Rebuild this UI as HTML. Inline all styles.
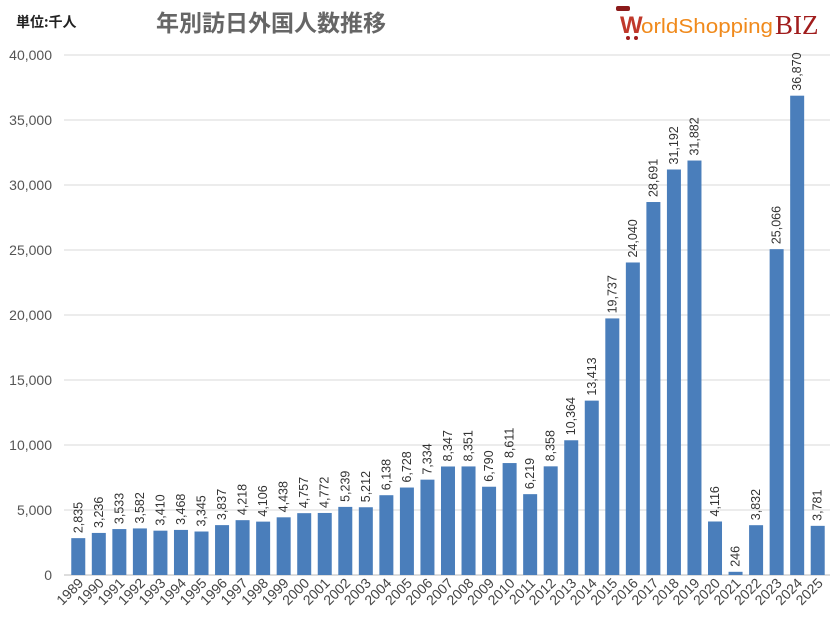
<!DOCTYPE html>
<html><head><meta charset="utf-8"><style>
body{margin:0;background:#fff;width:836px;height:618px;overflow:hidden;font-family:"Liberation Sans","Noto Sans CJK JP",sans-serif}
</style></head><body>
<svg width="836" height="618" xmlns="http://www.w3.org/2000/svg">
<text x="16" y="27" font-size="14" font-weight="bold" fill="#222" font-family="Noto Sans CJK JP,sans-serif">単位:千人</text>
<text x="156" y="31" font-size="23" font-weight="bold" fill="#666" font-family="Noto Sans CJK JP,sans-serif">年別訪日外国人数推移</text>
<g>
<rect x="616" y="6" width="14" height="5" rx="2" fill="#8b1a1a"/>
<text x="620" y="33" font-size="24" font-weight="bold" fill="#c0392b" font-family="Liberation Sans,sans-serif">W</text>
<text x="641" y="33" font-size="20" fill="#f08a1c" font-family="Liberation Sans,sans-serif" textLength="132" lengthAdjust="spacingAndGlyphs">orldShopping</text>
<text x="775" y="34" font-size="27" fill="#a01c1c" font-family="Liberation Serif,serif">BIZ</text>
<circle cx="628" cy="38" r="2" fill="#a01c1c"/><circle cx="636" cy="38" r="2" fill="#a01c1c"/>
</g>
<g id="grid"></g><g id="bars"></g>
</svg>
<script>
const years=["1989","1990","1991","1992","1993","1994","1995","1996","1997","1998","1999","2000","2001","2002","2003","2004","2005","2006","2007","2008","2009","2010","2011","2012","2013","2014","2015","2016","2017","2018","2019","2020","2021","2022","2023","2024","2025"];
const visitors=[2835,3236,3533,3582,3410,3468,3345,3837,4218,4106,4438,4757,4772,5239,5212,6138,6728,7334,8347,8351,6790,8611,6219,8358,10364,13413,19737,24040,28691,31192,31882,4116,246,3832,25066,36870,3781];
const ticks=[0,5000,10000,15000,20000,25000,30000,35000,40000];
const NS="http://www.w3.org/2000/svg";
const y0=575,yTop=55,yMax=40000,x0=68,step=20.54,bw=14;
const ys=v=>y0-(v/yMax)*(y0-yTop);
const xc=i=>x0+step*(i+0.5);
function mk(t,a,p){const e=document.createElementNS(NS,t);for(const k in a)e.setAttribute(k,a[k]);p.appendChild(e);return e;}
const g=document.getElementById('grid'),b=document.getElementById('bars');
ticks.forEach(t=>{
 const l=mk('line',{x1:x0-4,x2:830,y1:ys(t),y2:ys(t),stroke:t==0?'#bbb':'#d9d9d9','stroke-width':1},g);
 
 
 const tx=mk('text',{x:52,y:ys(t)+5,'text-anchor':'end','font-size':14,fill:'#555'},g);
 tx.textContent=t.toLocaleString('en-US');
 
 
});
visitors.forEach((v,i)=>{
 const r=mk('rect',{x:xc(i)-bw/2,y:ys(v),width:bw,height:y0-ys(v),fill:'#4a7ebb'},b);
 
 
 const vx=xc(i)+4,vy=ys(v)-5;
 const t=mk('text',{x:vx,y:vy,transform:`rotate(-90 ${vx} ${vy})`,'font-size':12.5,fill:'#333'},b);
 t.textContent=v.toLocaleString('en-US');
 
 
 const lx=xc(i)+6,ly=y0+9;
 const yl=mk('text',{x:lx,y:ly,transform:`rotate(-45 ${lx} ${ly})`,'text-anchor':'end','font-size':14,fill:'#444'},b);
 yl.textContent=years[i];
 
 
});
</script>
</body></html>
